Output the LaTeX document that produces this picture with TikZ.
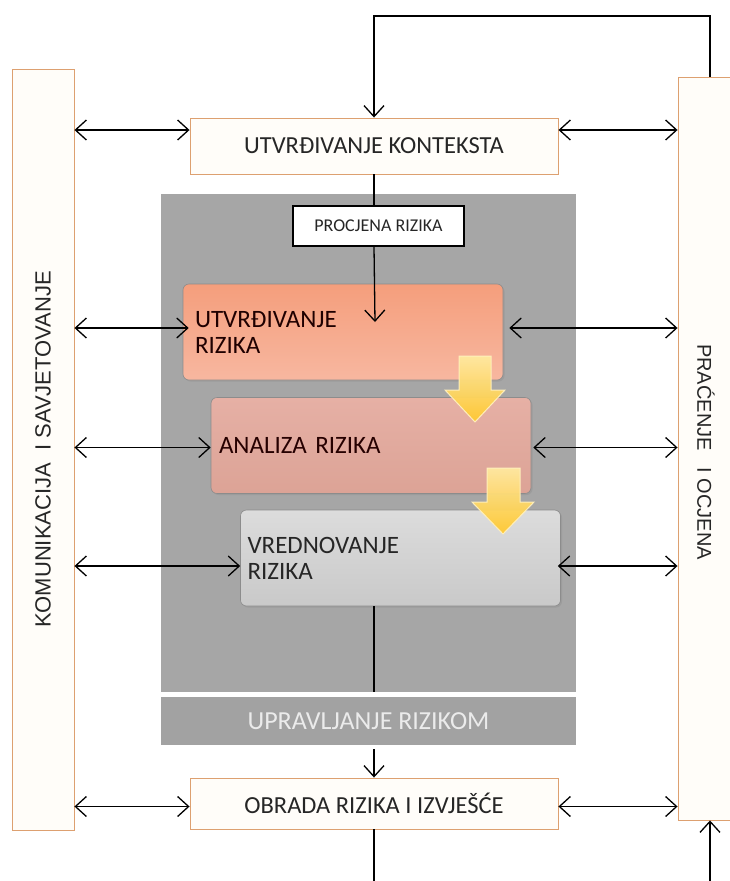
\documentclass[tikz,border=0pt]{standalone}
\usepackage{fontspec}
\setmainfont{Carlito}
\newfontfamily\arialfont{Liberation Sans}
\usetikzlibrary{arrows.meta,shadows}
\definecolor{boxline}{HTML}{DDA070}
\definecolor{boxfill}{HTML}{FFFDF9}
\definecolor{areagray}{HTML}{A6A6A6}
\definecolor{stripgray}{HTML}{A2A2A2}
\definecolor{urtop}{HTML}{F59E7C}
\definecolor{urbot}{HTML}{F7B7A0}
\definecolor{artop}{HTML}{E6B0A5}
\definecolor{arbot}{HTML}{DCA396}
\definecolor{vrtop}{HTML}{DCDCDC}
\definecolor{vrbot}{HTML}{C9C9C9}
\definecolor{ytop}{HTML}{FFE9A0}
\definecolor{ybot}{HTML}{FFC830}
\definecolor{txt}{HTML}{262626}
\tikzset{
  outer/.style={draw=boxline,fill=boxfill,line width=0.9pt,inner sep=0pt},
  mainbox/.style={outer,minimum width=368pt,font=\fontsize{24.5}{28}\selectfont,text=txt},
  riskbox/.style={draw=black!45,line width=0.6pt,rounded corners=6pt,minimum width=320pt,minimum height=96pt,
     align=left,text width=304pt,font=\fontsize{25}{26}\selectfont,inner sep=0pt},
  link/.style={line width=1.3pt,draw=black},
  dbl/.style={link,{Straight Barb[length=11pt,width=20pt]}-{Straight Barb[length=11pt,width=20pt]}},
  one/.style={link,-{Straight Barb[length=11pt,width=20pt]}},
  yarrow/.style={top color=ytop,bottom color=ybot,draw=ytop!70!white,line width=1pt,opacity=0.95},
  rshadow/.style={drop shadow={opacity=0.25,shadow xshift=1.5pt,shadow yshift=-1.5pt}},
}
\begin{document}
\begin{tikzpicture}[x=1pt,y=-1pt]
\useasboundingbox (0,0) rectangle (729,881);
\fill[white] (0,0) rectangle (729,881);
% side boxes
\node[outer,minimum width=62pt,minimum height=761pt] (lk) at (43,449.5) {};
\node[rotate=90,font=\arialfont\fontsize{22}{26}\selectfont,text=txt] at (lk.center) {KOMUNIKACIJA\ \ I SAVJETOVANJE};
\node[outer,minimum width=64pt,minimum height=743pt] (rk) at (710,448.5) {};
\node[rotate=-90,font=\arialfont\fontsize{20}{24}\selectfont,text=txt] at (706,452) {PRAĆENJE\ \ \ I OCJENA};
% main boxes
\node[mainbox,minimum height=56pt] (ctx) at (374,146) {UTVRĐIVANJE KONTEKSTA};
\node[mainbox,minimum height=51pt] (ob) at (374,803.5) {OBRADA RIZIKA I IZVJEŠĆE};
% gray area
\node[fill=areagray,minimum width=415pt,minimum height=498pt,inner sep=0pt] (ra) at (368.5,443) {};
\node[fill=stripgray,minimum width=415pt,minimum height=48pt,inner sep=0pt,text=white!92!black,
      font=\fontsize{26}{30}\selectfont] (um) at (368.5,721) {UPRAVLJANJE RIZIKOM};
\node[draw=black,fill=white,line width=1.3pt,minimum width=171pt,minimum height=40pt,inner sep=0pt,
      font=\fontsize{18}{20}\selectfont,text=txt] (pr) at (378.5,226) {PROCJENA RIZIKA};
% risk boxes
\node[riskbox,top color=urtop,bottom color=urbot,text=black!80!red!60!black,rshadow]
   (ur) at (343,332) {\hspace*{4pt}UTVRĐIVANJE\\\hspace*{4pt}RIZIKA};
\node[riskbox,top color=artop,bottom color=arbot,text=black!85!red,rshadow]
   (ar) at (371,445.5) {\hspace*{0pt}ANALIZA RIZIKA};
\node[riskbox,top color=vrtop,bottom color=vrbot,text=txt,rshadow]
   (vr) at (400.5,558) {\hspace*{-1pt}VREDNOVANJE\\\hspace*{-1pt}RIZIKA};
% yellow block arrows
\path[yarrow] (459,356) -- (491,356) -- (491,390) -- (505,390) -- (475,422) -- (445,390) -- (459,390) -- cycle;
\path[yarrow] (487,468) -- (520,468) -- (520,502) -- (534,502) -- (503,534) -- (472,502) -- (487,502) -- cycle;
% coordinates
\coordinate (topy) at (0,16);
\coordinate (boty) at (0,881);
\coordinate (urin) at (375,322);
% connectors
\draw[one] (rk.north) -- (rk.north |- topy) -- (ctx.north |- topy) -- (ctx.north);
\draw[link] (ctx.south) -- (ctx.south |- pr.north);
\draw[one] (ctx.south |- pr.south) -- (urin);
\draw[link] (ctx.south |- vr.south) -- (ctx.south |- ra.south);
\draw[one] ([yshift=-4pt]ob.north |- um.south) -- (ob.north);
\draw[link] (ob.south) -- (ob.south |- boty);
\draw[one] (rk.south |- boty) -- (rk.south);
% two-way links
\draw[dbl] ([yshift=16pt]lk.east |- ctx.west) -- ([yshift=16pt]ctx.west);
\draw[dbl] ([yshift=16pt]ctx.east) -- ([yshift=16pt]rk.west |- ctx.east);
\draw[dbl] ([yshift=4pt]lk.east |- ur.west) -- ([yshift=4pt,xshift=6pt]ur.west);
\draw[dbl] ([yshift=4pt,xshift=6pt]ur.east) -- ([yshift=4pt]rk.west |- ur.east);
\draw[dbl] ([yshift=-2pt]lk.east |- ar.west) -- ([yshift=-2pt]ar.west);
\draw[dbl] ([yshift=-2pt,xshift=2pt]ar.east) -- ([yshift=-2pt]rk.west |- ar.east);
\draw[dbl] ([yshift=-8pt]lk.east |- vr.west) -- ([yshift=-8pt]vr.west);
\draw[dbl] ([yshift=-8pt,xshift=-3pt]vr.east) -- ([yshift=-8pt]rk.west |- vr.east);
\draw[dbl] ([yshift=-3pt]lk.east |- ob.west) -- ([yshift=-3pt]ob.west);
\draw[dbl] ([yshift=-3pt]ob.east) -- ([yshift=-3pt]rk.west |- ob.east);
\end{tikzpicture}
\end{document}
